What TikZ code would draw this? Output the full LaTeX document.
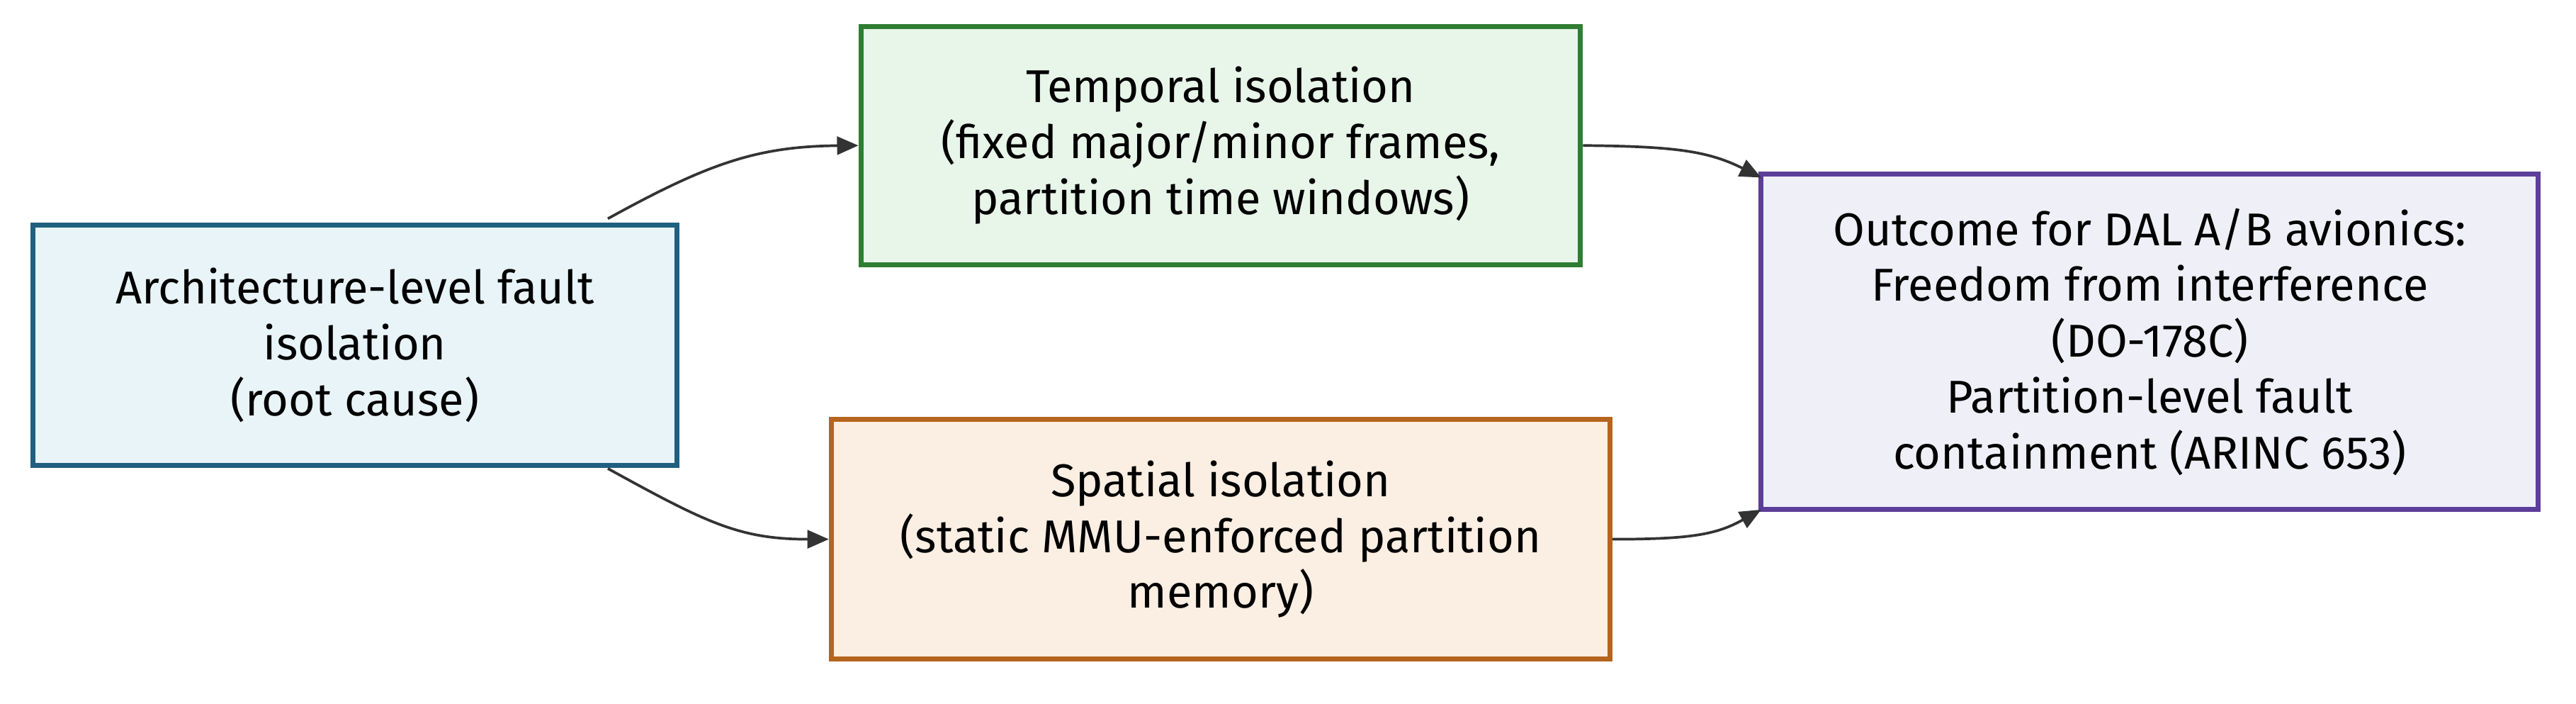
\documentclass[tikz,border=0pt]{standalone}
\usepackage{fontspec}
\setmainfont{Fira Sans}
\usetikzlibrary{arrows.meta}
\begin{document}
\begin{tikzpicture}[x=1pt,y=-1pt,
 box/.style={draw,line width=3pt,align=center,font=\fontsize{28}{34}\selectfont,inner sep=0pt},
 con/.style={draw=black!80,line width=1.6pt,-{Triangle[length=13pt,width=11pt]}}]
\useasboundingbox (0,0) rectangle (1568,428);
\definecolor{aF}{HTML}{E8F4F8}\definecolor{aD}{HTML}{1F5F7F}
\definecolor{tF}{HTML}{E8F5E9}\definecolor{tD}{HTML}{2E7D32}
\definecolor{sF}{HTML}{FBEEE2}\definecolor{sD}{HTML}{B5651D}
\definecolor{oF}{HTML}{EFEFF8}\definecolor{oD}{HTML}{5C3D99}
\node[box,fill=aF,draw=aD,minimum width=392pt,minimum height=146pt] (A) at (216,210) {Architecture-level fault\\isolation\\(root cause)};
\node[box,fill=tF,draw=tD,minimum width=438pt,minimum height=145pt] (T) at (743,88.5) {Temporal isolation\\(fixed major/minor frames,\\partition time windows)};
\node[box,fill=sF,draw=sD,minimum width=474pt,minimum height=146pt] (S) at (743,328) {Spatial isolation\\(static MMU-enforced partition\\memory)};
\node[box,fill=oF,draw=oD,minimum width=473pt,minimum height=204pt] (O) at (1308.5,208) {Outcome for DAL A/B avionics:\\Freedom from interference\\(DO-178C)\\Partition-level fault\\containment (ARINC 653)};
\coordinate (a1) at (370,133); \coordinate (a2) at (370,285);
\coordinate (o1) at (1072,108); \coordinate (o2) at (1072,310);
\draw[con] (a1) .. controls (430,100) and (460,89) .. (T.west);
\draw[con] (a2) .. controls (430,318) and (450,328) .. (S.west);
\draw[con] (T.east) .. controls (1020,89) and (1040,92) .. (o1);
\draw[con] (S.east) .. controls (1030,328) and (1045,325) .. (o2);
\end{tikzpicture}
\end{document}
